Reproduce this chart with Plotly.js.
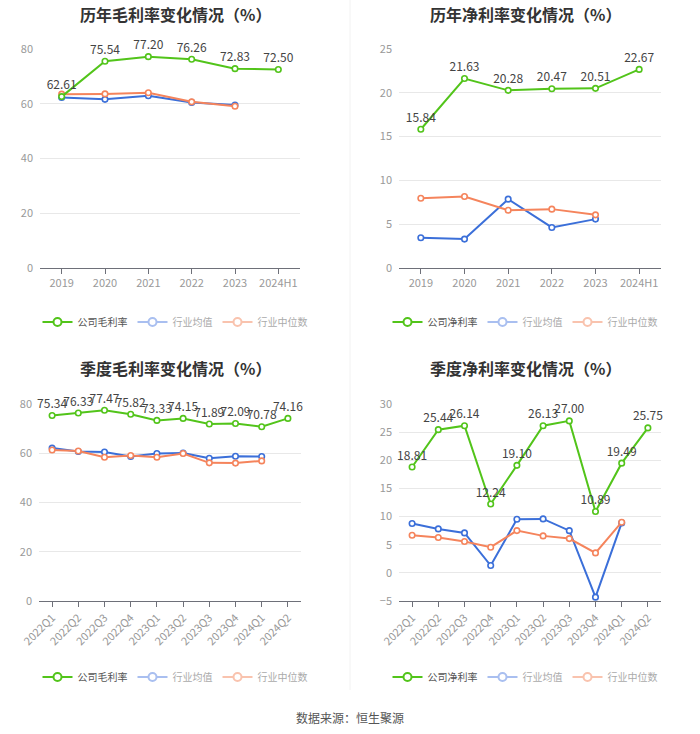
<!DOCTYPE html>
<html>
<head>
<meta charset="utf-8">
<script src="https://cdn.plot.ly/plotly-3.0.1.min.js"></script>
<style>html,body{margin:0;padding:0;background:#fff;}#chart{width:700px;height:734px;}</style>
</head>
<body>
<div id="chart"></div>
<script>
// ---- data ----
const yearCats = ['2019','2020','2021','2022','2023','2024H1'];
const quarterCats = ['2022Q1','2022Q2','2022Q3','2022Q4','2023Q1','2023Q2','2023Q3','2023Q4','2024Q1','2024Q2'];

const yearGrossCompany = [62.61, 75.54, 77.20, 76.26, 72.83, 72.50];
const yearGrossMean    = [62.3, 61.6, 62.9, 60.5, 59.5];
const yearGrossMedian  = [63.5, 63.6, 64.0, 60.7, 59.1];

const yearNetCompany = [15.84, 21.63, 20.28, 20.47, 20.51, 22.67];
const yearNetMean    = [3.45, 3.3, 7.86, 4.63, 5.58];
const yearNetMedian  = [7.97, 8.17, 6.6, 6.72, 6.07];

const qGrossCompany = [75.34, 76.33, 77.47, 75.82, 73.33, 74.15, 71.89, 72.09, 70.78, 74.16];
const qGrossMean    = [62.1, 60.7, 60.5, 58.7, 59.9, 60.1, 58.0, 58.8, 58.7];
const qGrossMedian  = [61.3, 60.9, 58.4, 59.1, 58.4, 59.9, 56.1, 56.0, 56.9];

const qNetCompany = [18.81, 25.44, 26.14, 12.24, 19.10, 26.13, 27.00, 10.89, 19.49, 25.75];
const qNetMean    = [8.76, 7.81, 7.1, 1.3, 9.53, 9.59, 7.5, -4.32, 8.88];
const qNetMedian  = [6.69, 6.27, 5.56, 4.56, 7.51, 6.57, 6.09, 3.55, 9.0];

const titles = ['历年毛利率变化情况（%）','历年净利率变化情况（%）','季度毛利率变化情况（%）','季度净利率变化情况（%）'];
const companyNames = ['公司毛利率','公司净利率','公司毛利率','公司净利率'];
const meanName = '行业均值';
const medianName = '行业中位数';
const source = '数据来源：恒生聚源';

// ---- style ----
const W = 700, H = 734;
const GREEN = '#52c41a', BLUE = '#3b6fd9', ORANGE = '#f5845c';
const GREEN_L = '#52c41a', BLUE_L = '#a9bff0', ORANGE_L = '#f9c3ae';
const FONT = 'Noto Sans CJK SC, Microsoft YaHei, sans-serif';

const panels = [
  {cats: yearCats, c: yearGrossCompany, m: yearGrossMean, d: yearGrossMedian, x0:40, x1:300, y0:49, y1:268, range:[0,80], dtick:20, angle:0},
  {cats: yearCats, c: yearNetCompany, m: yearNetMean, d: yearNetMedian, x0:399, x1:661, y0:49, y1:268, range:[0,25], dtick:5, angle:0},
  {cats: quarterCats, c: qGrossCompany, m: qGrossMean, d: qGrossMedian, x0:39, x1:301, y0:404, y1:601, range:[0,80], dtick:20, angle:-45},
  {cats: quarterCats, c: qNetCompany, m: qNetMean, d: qNetMedian, x0:399, x1:661, y0:404, y1:601, range:[-5,30], dtick:5, angle:-45}
];
const legendY = [322, 322, 677, 677];
const titleY = [14, 14, 368, 368];
const centerX = [175, 525, 175, 525];

const traces = [];
const layout = {
  width: W, height: H,
  margin: {l:0, r:0, t:0, b:0},
  paper_bgcolor: '#fff', plot_bgcolor: '#fff',
  font: {family: FONT, color: '#666'},
  showlegend: true,
  annotations: [],
  shapes: [
    {type:'line', xref:'paper', yref:'paper', x0:0.5, x1:0.5, y0:1-690/H, y1:1, line:{color:'#f2f2f2', width:1}}
  ]
};

function marker(color){ return {symbol:'circle', size:5.5, color:'#fff', line:{color:color, width:1.6}}; }

panels.forEach((p, i) => {
  const n = i + 1;
  const xa = n === 1 ? 'x' : 'x' + n;
  const ya = n === 1 ? 'y' : 'y' + n;
  const leg = n === 1 ? 'legend' : 'legend' + n;
  const xKey = n === 1 ? 'xaxis' : 'xaxis' + n;
  const yKey = n === 1 ? 'yaxis' : 'yaxis' + n;
  const nm = p.cats.slice(0, p.m.length);

  traces.push({type:'scatter', mode:'lines+markers', x:nm, y:p.m, xaxis:xa, yaxis:ya,
    line:{color:BLUE, width:2}, marker:marker(BLUE), showlegend:false, cliponaxis:false});
  traces.push({type:'scatter', mode:'lines+markers', x:nm, y:p.d, xaxis:xa, yaxis:ya,
    line:{color:ORANGE, width:2}, marker:marker(ORANGE), showlegend:false, cliponaxis:false});
  traces.push({type:'scatter', mode:'lines+markers+text', x:p.cats, y:p.c, xaxis:xa, yaxis:ya,
    line:{color:GREEN, width:2}, marker:marker(GREEN),
    text:p.c.map(v => v.toFixed(2)), textposition:'top center',
    textfont:{size:12, color:'#444', family:FONT}, cliponaxis:false,
    showlegend:false, hoverinfo:'x+y'});

  // legend entries
  [[companyNames[i], GREEN_L, '#555'], [meanName, BLUE_L, '#aaa'], [medianName, ORANGE_L, '#aaa']].forEach(([name, col, tcol]) => {
    traces.push({type:'scatter', mode:'lines+markers', x:[null], y:[null], xaxis:xa, yaxis:ya,
      name:'<span style="color:' + tcol + '">' + name + '</span>', legend:leg,
      line:{color:col, width:2}, marker:{symbol:'circle', size:8, color:'#fff', line:{color:col, width:2}}});
  });

  layout[leg] = {orientation:'h', x:centerX[i]/W, xanchor:'center', y:1-legendY[i]/H, yanchor:'middle',
    font:{size:10, family:FONT, color:'#555'}, bgcolor:'rgba(0,0,0,0)', itemwidth:30, tracegroupgap:0};

  layout[xKey] = {domain:[p.x0/W, p.x1/W], anchor:ya, type:'category', range:[-0.5, p.cats.length-0.5],
    showgrid:false, showline:true, linecolor:'#6e7079', linewidth:1, ticks:'outside', ticklen:5, tickcolor:'#6e7079',
    tickangle:p.angle, tickfont:{size:11, color:'#999', family:FONT}, zeroline:false, fixedrange:true};
  layout[yKey] = {domain:[1-p.y1/H, 1-p.y0/H], anchor:xa, range:p.range, dtick:p.dtick, tick0:0,
    showgrid:true, gridcolor:'#e8e8e8', gridwidth:1, showline:false, zeroline:false, ticks:'',
    tickfont:{size:11, color:'#999', family:FONT}, ticklabelstandoff:6, fixedrange:true};

  layout.annotations.push({xref:'paper', yref:'paper', x:centerX[i]/W, y:1-titleY[i]/H, xanchor:'center', yanchor:'middle',
    text:'<b>' + titles[i] + '</b>', showarrow:false, font:{size:16, color:'#333', family:FONT}});
});

layout.annotations.push({xref:'paper', yref:'paper', x:0.5, y:1-717/H, xanchor:'center', yanchor:'middle',
  text:source, showarrow:false, font:{size:12, color:'#555', family:FONT}});

Plotly.newPlot('chart', traces, layout, {displayModeBar:false, staticPlot:true});
</script>
</body>
</html>
